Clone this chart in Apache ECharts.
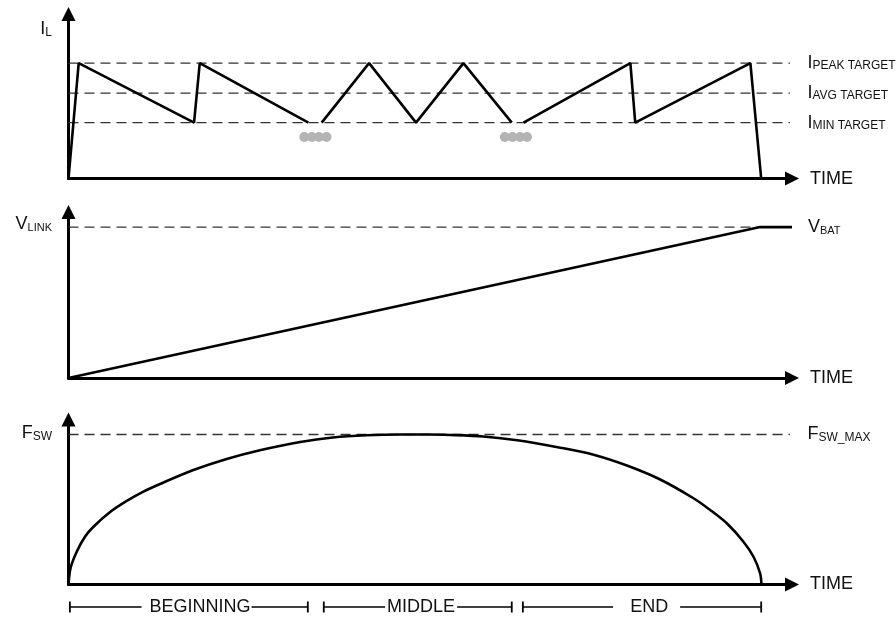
<!DOCTYPE html>
<html>
<head>
<meta charset="utf-8">
<script src="https://cdn.jsdelivr.net/npm/echarts@6/dist/echarts.min.js"></script>
<style>
  html, body { margin: 0; padding: 0; background: #fff; }
  #chart { width: 896px; height: 618px; }
</style>
</head>
<body>
<div id="chart"></div>
<script>
// Inductor current over one charge cycle (time in % of the cycle, current in normalized units).
// A null entry breaks the trace where switching cycles are skipped.
const ilTime  = [0, 1.47, 18.1, 18.92, 34.58, null, 36.5, 43.33, 50.1, 56.93, 63.9, null, 65.6, 81.0, 81.7, 98.3, 99.86];
const ilValue = [0, 4,    1.94, 4,     1.94,  null, 1.94, 4,     1.94, 4,     1.94, null, 1.94, 4,    1.94, 4,    0];

// Current regulation thresholds
const targetNames  = ['PEAK TARGET', 'AVG TARGET', 'MIN TARGET'];
const targetValues = [4, 2.96, 1.94];
const targetEnd = 104;

// Skipped-cycle markers
const skipTime  = [34.0, 35.1, 36.1, 37.2, 62.9, 64.0, 65.1, 66.1];
const skipValue = [1.44, 1.44, 1.44, 1.44, 1.44, 1.44, 1.44, 1.44];

// Link voltage ramp up to the battery voltage
const vTime  = [0, 99.7, 104.3];
const vValue = [0, 1, 1];
const vBat = 1;

// Switching frequency (normalized to its maximum)
const fTime  = [0, 0.3, 1.2, 2.4, 3.6, 6.0, 8.4, 10.8, 13.2, 18.0, 22.8, 27.6, 33.4, 38.1, 43.0, 47.8, 52.0, 55.0, 59.8, 64.7, 70.9, 75.7, 80.5, 85.3, 90.1, 92.5, 94.9, 97.3, 98.75, 99.7, 99.9];
const fValue = [0, 0.11, 0.22, 0.32, 0.385, 0.483, 0.557, 0.619, 0.67, 0.763, 0.837, 0.895, 0.950, 0.980, 0.995, 1.0, 1.0, 0.997, 0.987, 0.962, 0.912, 0.865, 0.793, 0.700, 0.575, 0.497, 0.408, 0.285, 0.185, 0.075, 0];
const fswMax = 1;

// Charge phases along the time axis
const phaseNames = ['BEGINNING', 'MIDDLE', 'END'];
const phaseStart = [0.2, 36.8, 65.5];
const phaseEnd   = [34.5, 63.9, 99.86];

// ---------------------------------------------------------------------------
const FONT = '"Liberation Sans", Arial, Helvetica, sans-serif';
const INK = '#111';
const rich = {
  m: { fontSize: 18, lineHeight: 18, fontFamily: FONT, color: INK },
  s: { fontSize: 12, lineHeight: 12, fontFamily: FONT, color: INK, verticalAlign: 'bottom' },
  t: { fontSize: 11, lineHeight: 11, fontFamily: FONT, color: INK, verticalAlign: 'bottom' }
};
const sub = (main, s, size) => '{m|' + main + '}{' + (size || 's') + '|' + s + '}';

const X_MAX = 104.3;
const gridBase = { left: 68.5, width: 723.5, outerBoundsMode: 'none', containLabel: false };
const grids = [
  Object.assign({ top: 14, height: 164.6 }, gridBase),
  Object.assign({ top: 212, height: 166.1 }, gridBase),
  Object.assign({ top: 419.5, height: 165 }, gridBase),
  Object.assign({ top: 597, height: 20 }, gridBase)
];

const arrowLine = {
  show: true, onZero: false,
  symbol: ['none', 'triangle'], symbolSize: [14, 14],
  lineStyle: { color: '#000', width: 3 }
};
const bare = { axisTick: { show: false }, axisLabel: { show: false }, splitLine: { show: false } };

function timeAxis(i) {
  return Object.assign({
    type: 'value', gridIndex: i, min: 0, max: X_MAX,
    name: 'TIME', nameLocation: 'end', nameGap: 18,
    nameTextStyle: { fontSize: 18, fontFamily: FONT, color: INK, align: 'left', verticalAlign: 'middle' },
    axisLine: arrowLine
  }, bare);
}
function levelAxis(i, max, name, gap) {
  return Object.assign({
    type: 'value', gridIndex: i, min: 0, max: max,
    name: name, nameLocation: 'end', nameGap: gap,
    nameTextStyle: { align: 'right', verticalAlign: 'middle', padding: [0, 16.5, 0, 0], rich: rich },
    axisLine: arrowLine
  }, bare);
}

const xAxes = [timeAxis(0), timeAxis(1), timeAxis(2),
  { type: 'value', gridIndex: 3, min: 0, max: X_MAX, show: false }];
const yAxes = [
  levelAxis(0, 5.7, sub('I', 'L'), -15.5),
  levelAxis(1, 1.1, sub('V', 'LINK', 't'), -12.5),
  levelAxis(2, 1.1, sub('F', 'SW'), -14),
  { type: 'value', gridIndex: 3, min: -1, max: 1, show: false }
];

const dashStyle = { color: '#333', width: 1.3, type: [10, 6] };
const endLabel = (text, dist) => ({ show: true, position: 'right', distance: dist, formatter: text, rich: rich });
function levelLine(axis, value, endT, text, dist) {
  const last = { value: [endT, value] };
  if (text) last.label = endLabel(text, dist);
  return {
    type: 'line', xAxisIndex: axis, yAxisIndex: axis, z: 1, silent: true, clip: false,
    symbol: 'circle', symbolSize: 0, showSymbol: true, label: { show: false },
    lineStyle: dashStyle, data: [[0, value], last]
  };
}

const series = [];

// Panel 1: inductor current
targetNames.forEach((n, i) => series.push(levelLine(0, targetValues[i], targetEnd, sub('I', n), 17.5)));
series.push({
  type: 'scatter', xAxisIndex: 0, yAxisIndex: 0, z: 2, silent: true,
  symbol: 'circle', symbolSize: 10, itemStyle: { color: '#b4b4b4', opacity: 1 },
  data: skipTime.map((t, i) => [t, skipValue[i]])
});
series.push({
  type: 'line', xAxisIndex: 0, yAxisIndex: 0, z: 3, silent: true,
  symbol: 'none', connectNulls: false,
  lineStyle: { color: '#000', width: 2.6 },
  data: ilTime.map((t, i) => t === null ? ['-', '-'] : [t, ilValue[i]])
});

// Panel 2: link voltage
series.push(levelLine(1, vBat, vTime[1], null, 0));
series.push({
  type: 'line', xAxisIndex: 1, yAxisIndex: 1, z: 3, silent: true, clip: false,
  symbol: 'circle', symbolSize: 0, showSymbol: true, label: { show: false },
  lineStyle: { color: '#000', width: 2.6 },
  data: vTime.map((t, i) => i === vTime.length - 1
    ? { value: [t, vValue[i]], label: endLabel(sub('V', 'BAT', 't'), 16) }
    : [t, vValue[i]])
});

// Panel 3: switching frequency
series.push(levelLine(2, fswMax, targetEnd, sub('F', 'SW_MAX'), 17.5));
series.push({
  type: 'line', xAxisIndex: 2, yAxisIndex: 2, z: 3, silent: true,
  symbol: 'none', smooth: 0.3,
  lineStyle: { color: '#000', width: 2.6 },
  data: fTime.map((t, i) => [t, fValue[i]])
});

// Phase brackets under the time axis
const phaseLabelBox = [
  { offset: [7.7, 0], padding: [0, 1, 0, 8] },
  { offset: [3.3, 0], padding: [0, 2, 0, 2] },
  { offset: [4.6, 0], padding: [0, 12, 0, 17] }
];
phaseNames.forEach((n, i) => {
  series.push({
    type: 'line', xAxisIndex: 3, yAxisIndex: 3, z: 1, silent: true, clip: false,
    symbol: 'rect', symbolSize: [1.8, 11], showSymbol: true,
    itemStyle: { color: '#000' },
    lineStyle: { color: '#000', width: 1.5 },
    data: [[phaseStart[i], 0], [phaseEnd[i], 0]]
  });
  series.push({
    type: 'scatter', xAxisIndex: 3, yAxisIndex: 3, z: 5, silent: true,
    symbol: 'circle', symbolSize: 0, itemStyle: { color: '#fff', opacity: 1 },
    label: Object.assign({
      show: true, position: 'inside', formatter: n,
      fontSize: 18, fontFamily: FONT, color: INK, opacity: 1,
      backgroundColor: '#fff', align: 'center', verticalAlign: 'middle'
    }, phaseLabelBox[i]),
    data: [[(phaseStart[i] + phaseEnd[i]) / 2, 0]]
  });
});

const chart = echarts.init(document.getElementById('chart'), null, { renderer: 'canvas' });
chart.setOption({
  animation: false,
  backgroundColor: '#fff',
  grid: grids,
  xAxis: xAxes,
  yAxis: yAxes,
  series: series
});
</script>
</body>
</html>
